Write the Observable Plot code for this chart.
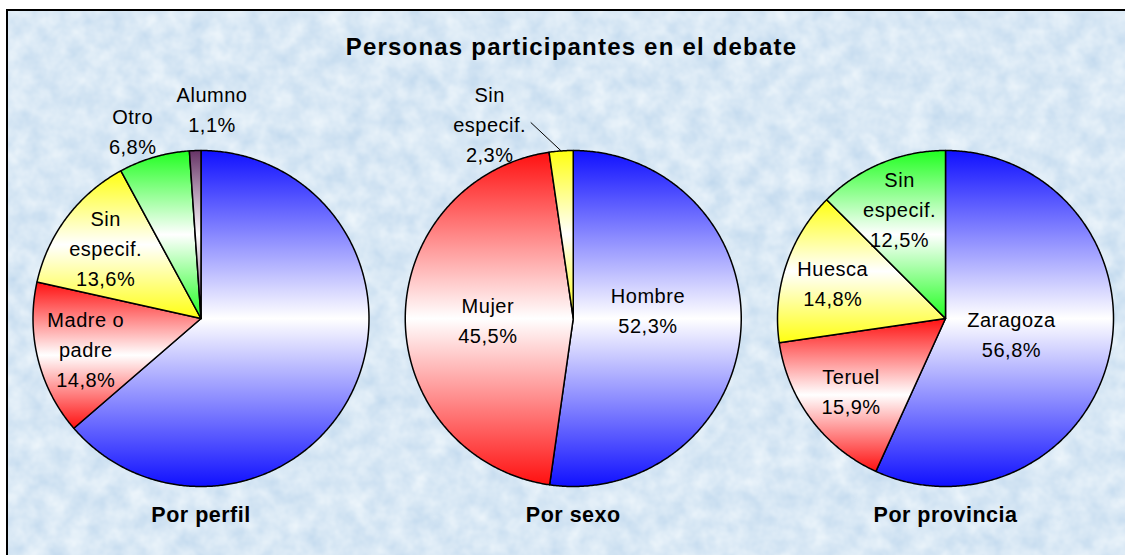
<!DOCTYPE html>
<html>
<head>
<meta charset="utf-8">
<script src="https://cdn.jsdelivr.net/npm/d3@7"></script>
<script src="https://cdn.jsdelivr.net/npm/@observablehq/plot@0.6"></script>
<style>
  html, body { margin: 0; padding: 0; background: #fff; overflow: hidden; }
  #wrap { position: relative; width: 1125px; height: 555px; overflow: hidden; font-family: "Liberation Sans", Arial, sans-serif; }
  #bg { position: absolute; left: 7px; top: 10px; }
  #frame { position: absolute; left: 6px; top: 9px; width: 1140px; height: 570px; border: 2px solid #000; box-sizing: border-box; }
  #title { position: absolute; left: 0; width: 1143px; top: 33px; line-height: 28px; text-align: center; font-weight: bold; font-size: 24px; letter-spacing: 1.2px; color: #000; }
  #chart { position: absolute; left: 0; top: 0; }
  #chart svg text { letter-spacing: 0.5px; }
  #chart svg text.facet-title { letter-spacing: 1px; }
</style>
</head>
<body>
<svg width="0" height="0" style="position:absolute">
  <defs id="grads"></defs>
</svg>
<div id="wrap">
  <svg id="bg" width="1130" height="560">
    <filter id="noise" x="0" y="0" width="100%" height="100%" color-interpolation-filters="sRGB">
      <feTurbulence type="fractalNoise" baseFrequency="0.05" numOctaves="3" seed="7"/>
      <feColorMatrix type="matrix" values="0.2 0 0 0 0.75  0.13 0 0 0 0.845  0.06 0 0 0 0.93  0 0 0 0 1"/>
    </filter>
    <rect width="100%" height="100%" filter="url(#noise)"/>
  </svg>
  <div id="frame"></div>
  <div id="chart"></div>
  <div id="title">Personas participantes en el debate</div>
</div>
<script>
// ---------- data ----------
const charts = ["Por perfil", "Por sexo", "Por provincia"];

// Por perfil (the large first slice carries no label in the original)
const perfilCats = [null, "Madre o\npadre", "Sin\nespecif.", "Otro", "Alumno"];
const perfilVals = [63.6, 14.8, 13.6, 6.8, 1.1];

// Por sexo
const sexoCats = ["Hombre", "Mujer", "Sin\nespecif."];
const sexoVals = [52.3, 45.5, 2.3];

// Por provincia
const provCats = ["Zaragoza", "Teruel", "Huesca", "Sin\nespecif."];
const provVals = [56.8, 15.9, 14.8, 12.5];

// slice colours, in slice order
const sliceColors = ["#1010ff", "#ff1010", "#ffff10", "#20ff20", "#663366"];

// ---------- layout ----------
const R_PX = 168;                       // pie radius in pixels (1 data unit)
const labelNudgePx = {                  // manual label moves, as in the original
  "Por perfil|Otro": [-12, 4],
  "Por perfil|Alumno": [18, -10],
  "Por sexo|Sin\nespecif.": [-69, 5],
  "Por sexo|Hombre": [0, -15]
};
const leaderPx = { "Por sexo|Sin\nespecif.": 41 };

// gradients: colour -> white -> colour, top to bottom of each slice
const defs = d3.select("#grads");
sliceColors.forEach((c, i) => {
  const g = defs.append("linearGradient").attr("id", "grad" + i)
    .attr("x1", 0).attr("y1", 0).attr("x2", 0).attr("y2", 1);
  g.append("stop").attr("offset", "0%").attr("stop-color", c);
  g.append("stop").attr("offset", "50%").attr("stop-color", "#ffffff");
  g.append("stop").attr("offset", "100%").attr("stop-color", c);
});

const fmt = v => v.toFixed(1).replace(".", ",") + "%";
const series = [
  {chart: charts[0], cats: perfilCats, vals: perfilVals},
  {chart: charts[1], cats: sexoCats, vals: sexoVals},
  {chart: charts[2], cats: provCats, vals: provVals}
];

const pie = d3.pie().sort(null).value(d => d.value);
const slicePts = [], labels = [], leaders = [];
for (const s of series) {
  const rows = s.vals.map((v, i) => ({cat: s.cats[i], value: v, idx: i}));
  const total = d3.sum(s.vals);
  pie(rows).forEach(a => {
    const chart = s.chart;
    const key = chart + "|" + a.data.idx;
    const fill = `url(#grad${a.data.idx})`;
    slicePts.push({key, chart, fill, x: 0, y: 0});
    const n = Math.max(2, Math.ceil((a.endAngle - a.startAngle) / (Math.PI / 360)));
    for (let k = 0; k <= n; k++) {
      const t = a.startAngle + (a.endAngle - a.startAngle) * k / n;
      slicePts.push({key, chart, fill, x: Math.sin(t), y: Math.cos(t)});
    }
    slicePts.push({key, chart, fill, x: 0, y: 0});

    if (a.data.cat == null) return;
    const mid = (a.startAngle + a.endAngle) / 2;
    const half = (a.endAngle - a.startAngle) / 2;
    const share = a.value / total;
    const rad = share < 0.08 ? 1.2 : 1.1 * (2 * Math.sin(half)) / (3 * half);
    let x = rad * Math.sin(mid), y = rad * Math.cos(mid);
    const id = chart + "|" + a.data.cat;
    const nudge = labelNudgePx[id];
    if (nudge) { x += nudge[0] / R_PX; y -= nudge[1] / R_PX; }
    labels.push({chart, text: a.data.cat + "\n" + fmt(a.value), x, y});
    if (leaderPx[id] != null) {
      leaders.push({chart, x1: Math.sin(mid), y1: Math.cos(mid), x2: x + leaderPx[id] / R_PX, y2: y});
    }
  });
}

const step = 372.25;
const plot = Plot.plot({
  width: 1125,
  height: 555,
  marginTop: 150,
  marginBottom: 69,
  marginLeft: 32.5,
  marginRight: 12,
  fx: {domain: charts, axis: null, paddingInner: 1 - (2 * R_PX) / step, paddingOuter: 0, round: false},
  x: {domain: [-1, 1], axis: null},
  y: {domain: [-1, 1], axis: null},
  color: {type: "identity"},
  facet: {marginTop: 0, marginRight: 0, marginBottom: 0, marginLeft: 0},
  style: {background: "transparent", fontFamily: "'Liberation Sans', Arial, sans-serif", overflow: "visible"},
  marks: [
    Plot.line(slicePts, {fx: "chart", x: "x", y: "y", z: "key", fill: "fill", stroke: "#000", strokeWidth: 1.5, strokeLinejoin: "round"}),
    Plot.link(leaders, {fx: "chart", x1: "x1", y1: "y1", x2: "x2", y2: "y2", stroke: "#000", strokeWidth: 1}),
    Plot.text(labels, {fx: "chart", x: "x", y: "y", text: "text", fontSize: 20, lineHeight: 1.5, fill: "#000"}),
    Plot.text(charts, {fx: d => d, text: d => d, frameAnchor: "bottom", lineAnchor: "middle", dy: 29, fontSize: 21.5, fontWeight: "bold", fill: "#000", className: "facet-title"})
  ]
});
document.getElementById("chart").appendChild(plot);
</script>
</body>
</html>
